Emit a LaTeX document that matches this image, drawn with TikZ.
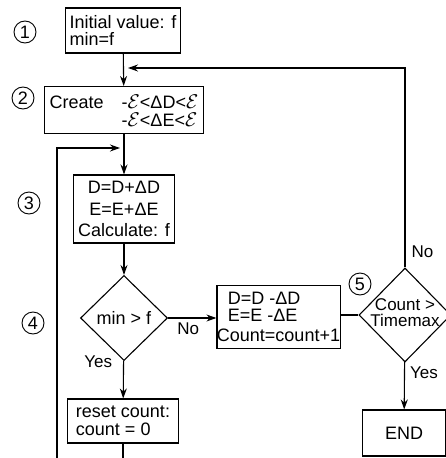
\documentclass[tikz,border=0pt]{standalone}
\usepackage{fontspec}
\setmainfont{Liberation Sans}
\usetikzlibrary{shapes.geometric,arrows.meta}
\newcommand{\eps}{\scalebox{1.15}{$\mathcal{E}$}}
\begin{document}
\begin{tikzpicture}[x=1pt, y=-1pt,
    blk/.style={draw, rectangle, line width=1.1pt, inner sep=0pt},
    dia/.style={draw, diamond, line width=1.1pt, inner sep=0pt},
    num/.style={draw, circle, line width=0.9pt, minimum size=22pt, inner sep=0pt, font=\fontsize{18}{18}\selectfont},
    lbl/.style={inner sep=0pt, font=\fontsize{17}{17}\selectfont},
    arr/.style={-{Stealth[length=10pt, width=7pt]}, line width=1.1pt},
    font=\fontsize{18}{18}\selectfont]
        \useasboundingbox (0,0) rectangle (446,458);
        \clip (0,0) rectangle (446,458);
        \node[num] at (25,32)   (n1) {1};
        \node[num] at (23,98)   (n2) {2};
        \node[num] at (29,203)  (n3) {3};
        \node[num] at (33,323)  (n4) {4};
        \node[num] at (360,284) (n5) {5};
        \node[blk, minimum width=115pt, minimum height=45pt, align=left, font=\fontsize{18}{17}\selectfont] at (123,30.5) (init) {Initial value: f\\min=f};
        \node[blk, minimum width=159pt, minimum height=47pt, text depth=8pt] at (124,110) (create) {\begin{tabular}{@{}l@{\hspace{18pt}}l@{}}Create & -\eps<ΔD<\eps\\[-1pt] & -\eps<ΔE<\eps\end{tabular}};
        \node[blk, minimum width=101pt, minimum height=68pt, align=center, font=\fontsize{18}{21.5}\selectfont] at (124,209) (calc) {D=D+ΔD\\E=E+ΔE\\Calculate: f};
        \node[dia, minimum width=87pt, minimum height=85pt] at (124,318) (cmp) {min > f};
        \node[blk, minimum width=111pt, minimum height=44pt, align=left, font=\fontsize{18}{17.5}\selectfont] at (123,421) (reset) {reset count:\\count = 0};
        \node[blk, minimum width=123pt, minimum height=63pt, align=left] at (278.5,317) (upd) {\hspace{11pt}D=D -ΔD\\[-0.5pt]\hspace{11pt}E=E -ΔE\\[2pt]Count=count+1};
        \node[dia, minimum width=92pt, minimum height=94pt] at (405,315) (chk) {};
        \node[lbl, align=center, font=\fontsize{17}{16}\selectfont] at (405,313) (chktxt) {Count >\\Timemax};
        \node[blk, minimum width=83pt, minimum height=46pt] at (404,433) (stop) {END};
        \coordinate (j1) at (128,68);
        \coordinate (j2) at (120,148);
        \coordinate (loop) at (57,475);
        \draw[arr] (init) -- (create);
        \draw[arr] (create) -- (calc);
        \draw[arr] (calc) -- (cmp);
        \draw[arr] (cmp) -- node[lbl, at start, anchor=east, xshift=-11pt, yshift=-1pt] {Yes} (reset);
        \draw[arr] (cmp.east) -- node[lbl, midway, below=4pt, xshift=-4pt] {No} (cmp.east -| upd.west);
        \draw[line width=1.1pt] (upd.east |- chk.west) -- (chk.west);
        \draw[arr] (chk) -- node[lbl, at start, anchor=north west, xshift=5pt, yshift=-4pt] {Yes} (stop);
        \draw[arr] (chk.north) |- node[lbl, pos=0.04, anchor=west, xshift=6pt] {No} (j1);
        \draw[arr] (reset.south) |- (loop) |- (j2);
    \end{tikzpicture}
\end{document}
